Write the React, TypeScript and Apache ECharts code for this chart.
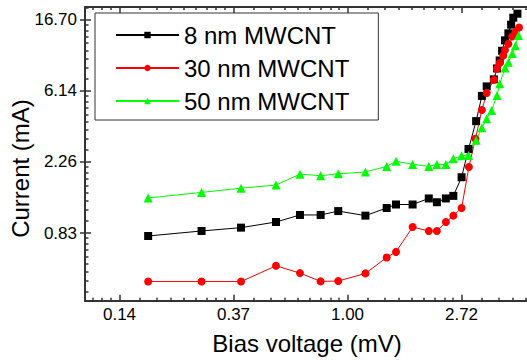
import React, { useEffect, useRef } from 'react';
import * as echarts from 'echarts';

// ---- data ----
const seriesNames = ['8 nm MWCNT', '30 nm MWCNT', '50 nm MWCNT'];

const voltage8 = [0.174, 0.278, 0.393, 0.534, 0.659, 0.79, 0.922, 1.17, 1.41, 1.53, 1.77, 2.04, 2.19, 2.37, 2.53, 2.72, 2.89, 3.09, 3.25, 3.39, 3.61, 3.71, 3.80, 3.88, 3.98, 4.10, 4.20, 4.28, 4.44];
const current8 = [0.796, 0.854, 0.895, 0.969, 1.07, 1.07, 1.13, 1.06, 1.18, 1.24, 1.24, 1.35, 1.28, 1.35, 1.40, 1.82, 2.71, 4.01, 5.72, 6.54, 7.22, 8.42, 9.42, 10.8, 12.5, 13.8, 15.6, 17.2, 18.2];

const voltage30 = [0.174, 0.278, 0.393, 0.534, 0.659, 0.79, 0.922, 1.17, 1.41, 1.53, 1.77, 2.04, 2.19, 2.37, 2.53, 2.72, 2.90, 3.07, 3.25, 3.39, 3.61, 3.71, 3.80, 3.92, 3.98, 4.10, 4.24, 4.37, 4.50];
const current30 = [0.419, 0.419, 0.419, 0.523, 0.472, 0.42, 0.422, 0.47, 0.588, 0.636, 0.903, 0.854, 0.854, 0.969, 1.06, 1.18, 2.10, 3.13, 4.69, 5.96, 7.17, 8.39, 9.10, 10.1, 10.9, 11.9, 13.2, 14.1, 15.0];

const voltage50 = [0.174, 0.278, 0.393, 0.534, 0.659, 0.79, 0.922, 1.17, 1.41, 1.53, 1.77, 2.04, 2.19, 2.37, 2.53, 2.72, 2.89, 3.09, 3.25, 3.39, 3.54, 3.71, 3.80, 3.98, 4.10, 4.24, 4.36, 4.48];
const current50 = [1.36, 1.47, 1.56, 1.63, 1.90, 1.86, 1.91, 1.96, 2.12, 2.28, 2.18, 2.12, 2.18, 2.18, 2.36, 2.46, 2.47, 3.06, 3.65, 4.15, 4.66, 5.76, 6.79, 8.48, 9.20, 10.4, 11.6, 13.4];

const xTickValues = [0.135335, 0.367879, 1.0, 2.718282];
const xTickLabels = ['0.14', '0.37', '1.00', '2.72'];
const yTickValues = [0.83, 2.26, 6.14, 16.70];
const yTickLabels = ['0.83', '2.26', '6.14', '16.70'];
const xRange = [0.1, 5];
const yRange = [0.32, 20];

const colors = ['#000000', '#ff0000', '#00ff00'];
const symbols = ['rect', 'circle', 'triangle'];
const symbolSizes = [8, 8, 9];

const FONT = '"Liberation Sans", Arial, Helvetica, sans-serif';
const AXIS = '#333';
const ln = Math.log;

function minorTicks(majors: number[], lo: number, hi: number): number[] {
  const ext = [majors[0] / Math.E, ...majors, majors[majors.length - 1] * Math.E];
  const out: number[] = [];
  for (let i = 0; i < ext.length - 1; i++) {
    const a = ext[i];
    const b = ext[i + 1];
    for (let j = 1; j < 9; j++) {
      const v = a + ((b - a) * j) / 9;
      if (v > lo && v < hi) out.push(ln(v));
    }
  }
  return out;
}

function labelFor(values: number[], labels: string[]) {
  return (v: number) => {
    for (let i = 0; i < values.length; i++) {
      if (Math.abs(ln(values[i]) - v) < 1e-4) return labels[i];
    }
    return '';
  };
}

export default function App() {
  const ref = useRef<HTMLDivElement>(null);

  useEffect(() => {
    document.body.style.margin = '0';
    if (!ref.current) return;
    const chart = echarts.init(ref.current, undefined, { renderer: 'svg' });

    const xMin = ln(xRange[0]);
    const xMax = ln(xRange[1]);
    const yMin = ln(yRange[0]);
    const yMax = ln(yRange[1]);
    const xMajor = xTickValues.map(ln);
    const yMajor = yTickValues.map(ln);
    const xMinor = minorTicks(xTickValues, xRange[0], xRange[1]);
    const yMinor = minorTicks(yTickValues, yRange[0], yRange[1]);

    const tickStyle = { color: AXIS, width: 1.5 };
    const xBase = { type: 'value', min: xMin, max: xMax, splitLine: { show: false } };
    const yBase = { type: 'value', min: yMin, max: yMax, splitLine: { show: false } };

    const data = [
      [voltage8, current8],
      [voltage30, current30],
      [voltage50, current50],
    ];

    const option: any = {
      animation: false,
      grid: { left: 85, top: 7, right: -4, bottom: 59.3, containLabel: false, outerBoundsMode: 'none' },
      legend: {
        show: true,
        orient: 'vertical',
        left: 95,
        top: 13,
        itemWidth: 63,
        itemHeight: 8,
        itemGap: 9,
        padding: [10, 29, 7, 20],
        borderColor: AXIS,
        borderWidth: 1,
        textStyle: { fontSize: 24, color: '#000', fontFamily: FONT },
        data: seriesNames,
      },
      xAxis: [
        {
          ...xBase,
          position: 'bottom',
          axisLine: { show: true, onZero: false, lineStyle: { color: AXIS, width: 2 } },
          axisTick: { show: true, inside: true, length: 6, customValues: xMajor, lineStyle: tickStyle },
          axisLabel: {
            show: true,
            customValues: xMajor,
            formatter: labelFor(xTickValues, xTickLabels),
            margin: 5,
            fontSize: 17,
            color: '#000',
            fontFamily: FONT,
          },
        },
        {
          ...xBase,
          position: 'bottom',
          axisLine: { show: false, onZero: false },
          axisTick: { show: true, inside: true, length: 3, customValues: xMinor, lineStyle: tickStyle },
          axisLabel: { show: false },
        },
        {
          ...xBase,
          position: 'top',
          axisLine: { show: true, onZero: false, lineStyle: { color: AXIS, width: 2 } },
          axisTick: { show: true, inside: true, length: 6, customValues: xMajor, lineStyle: tickStyle },
          axisLabel: { show: false },
        },
        {
          ...xBase,
          position: 'top',
          axisLine: { show: false, onZero: false },
          axisTick: { show: true, inside: true, length: 3, customValues: xMinor, lineStyle: tickStyle },
          axisLabel: { show: false },
        },
      ],
      yAxis: [
        {
          ...yBase,
          position: 'left',
          axisLine: { show: true, onZero: false, lineStyle: { color: AXIS, width: 2 } },
          axisTick: { show: true, inside: true, length: 6, customValues: yMajor, lineStyle: tickStyle },
          axisLabel: {
            show: true,
            customValues: yMajor,
            formatter: labelFor(yTickValues, yTickLabels),
            margin: 8,
            fontSize: 17,
            color: '#000',
            fontFamily: FONT,
          },
        },
        {
          ...yBase,
          position: 'left',
          axisLine: { show: false, onZero: false },
          axisTick: { show: true, inside: false, length: 5, customValues: yMajor, lineStyle: tickStyle },
          axisLabel: { show: false },
        },
        {
          ...yBase,
          position: 'left',
          axisLine: { show: false, onZero: false },
          axisTick: { show: true, inside: true, length: 3.5, customValues: yMinor, lineStyle: tickStyle },
          axisLabel: { show: false },
        },
      ],
      series: seriesNames.map((name, s) => ({
        name,
        type: 'line',
        xAxisIndex: 0,
        yAxisIndex: 0,
        data: data[s][0].map((v, i) => [ln(v), ln(data[s][1][i])]),
        symbol: symbols[s],
        symbolSize: symbolSizes[s],
        itemStyle: { color: colors[s] },
        lineStyle: { color: colors[s], width: 1 },
        emphasis: { disabled: true },
      })),
      graphic: [
        {
          type: 'text',
          x: 307,
          y: 343.5,
          style: {
            text: 'Bias voltage (mV)',
            fontSize: 24,
            fontFamily: FONT,
            fill: '#000',
            align: 'center',
            verticalAlign: 'middle',
          },
        },
        {
          type: 'text',
          x: 20.5,
          y: 168.5,
          rotation: Math.PI / 2,
          style: {
            text: 'Current (mA)',
            fontSize: 24,
            fontFamily: FONT,
            fill: '#000',
            align: 'center',
            verticalAlign: 'middle',
          },
        },
      ],
    };

    chart.setOption(option);
    return () => chart.dispose();
  }, []);

  return <div ref={ref} style={{ width: 527, height: 360 }} />;
}
